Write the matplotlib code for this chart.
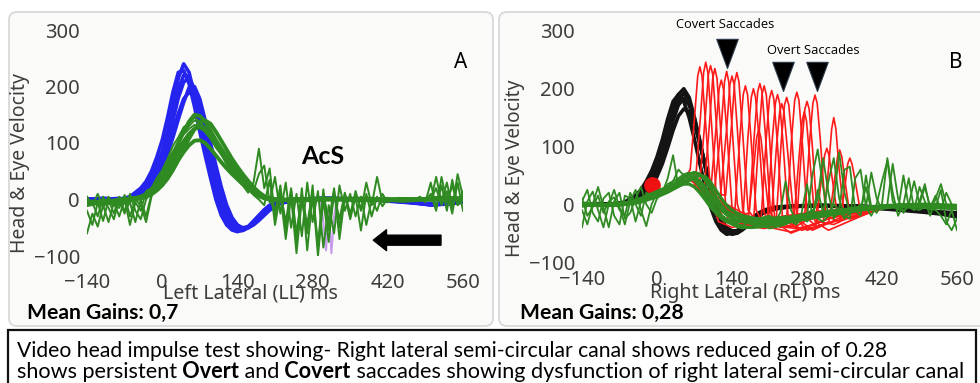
import matplotlib
matplotlib.use("Agg")
import matplotlib.pyplot as plt
from matplotlib.patches import FancyBboxPatch
import numpy as np

plt.rcParams['font.family'] = ['Noto Sans', 'DejaVu Sans']

# ---------------- data ----------------
x_ticks = [-140, 0, 140, 280, 420, 560]
y_ticks = [-100, 0, 100, 200, 300]

# common grid for smooth (head / eye) traces, ms
t_smooth = [-140, -110, -80, -60, -40, -30, -20, -10, 0, 10, 20, 30, 40, 50, 60, 70, 80, 90, 100,
            110, 120, 130, 140, 150, 160, 170, 180, 190, 200, 220, 250, 300, 380, 450, 500, 530, 560]
# grid for noisy eye traces (every 10 ms)
t_noisy = list(range(-140, 561, 10))

# Panel A - head velocity (blue)
headA = [
    [0, 2, 0, 3, 15, 25, 40, 60, 85, 120, 165, 215, 240, 225, 185, 140, 100, 55, 15, -15, -35, -48, -55, -55, -50, -42, -32, -22, -14, -4, 0, 2, 0, -3, -8, -6, -4],
    [0, 0, 2, 0, 10, 18, 30, 48, 70, 100, 140, 180, 208, 215, 195, 160, 120, 78, 35, -2, -28, -42, -50, -52, -49, -42, -33, -24, -15, -5, 0, 1, 0, -4, -9, -7, -3],
    [-2, 2, 0, 2, 8, 15, 25, 40, 60, 88, 120, 152, 178, 190, 182, 155, 120, 85, 48, 12, -18, -36, -46, -50, -48, -43, -35, -26, -17, -6, -1, 2, 1, -3, -10, -8, -4],
    [0, -2, 0, 5, 20, 32, 50, 75, 105, 145, 190, 225, 228, 205, 165, 120, 78, 38, 0, -28, -45, -54, -57, -54, -48, -38, -28, -18, -10, -3, 1, 2, 0, -5, -9, -5, -2],
    [1, 0, -1, 3, 12, 22, 36, 55, 80, 112, 155, 195, 220, 218, 190, 150, 108, 66, 25, -8, -32, -46, -53, -54, -50, -43, -34, -24, -15, -5, 0, 1, 0, -4, -8, -6, -3],
    [0, 1, 0, 1, 6, 12, 22, 36, 55, 80, 110, 142, 172, 198, 200, 178, 140, 100, 60, 22, -10, -32, -45, -51, -50, -45, -37, -28, -19, -7, -1, 2, 1, -3, -9, -8, -5],
]
# Panel A - eye velocity (green, smooth)
eyeA = [
    [-5, -8, -3, 0, 5, 10, 18, 28, 42, 58, 78, 100, 120, 138, 150, 148, 138, 122, 105, 90, 76, 62, 50, 38, 27, 17, 9, 4, 1, 0, -2, 0, 2, -2, 0, 3, 2],
    [-3, -5, 0, 2, 4, 8, 14, 22, 34, 48, 65, 84, 102, 116, 125, 128, 122, 110, 96, 82, 68, 55, 44, 34, 24, 15, 8, 3, 0, -2, 0, 2, 0, -2, 2, 4, 0],
    [-8, -2, -5, 0, 3, 6, 12, 18, 28, 40, 54, 70, 84, 96, 104, 105, 100, 90, 78, 66, 55, 45, 36, 27, 19, 12, 6, 2, 0, -1, 1, 0, -1, 1, 0, 3, 1],
    [-10, -4, -8, -2, 2, 5, 9, 16, 25, 37, 52, 70, 90, 108, 124, 136, 140, 134, 120, 104, 88, 72, 58, 45, 33, 22, 13, 6, 2, 0, -1, 1, 0, 0, 1, 2, 0],
]
# Panel A - eye velocity (green, noisy), on t_noisy
eyeA_noisy = [
    [-60, -25, -48, -10, -40, -5, -30, 0, -45, -5,
     -20, 15, 20, 38, 52, 72, 95, 110, 128, 135,
     145, 138, 125, 110, 92, 80, 62, 50, 35, 25,
     12, 30, 90, 20, 55, -30, 25, -55, 15, -75,
     20, -90, 5, -80, 18, -55, 10, -35, 12, -25,
     8, -15, 5, -8, 2, 0, 3, 0, -2, 0,
     2, 0, 5, -5, 30, -15, 25, -20, 35, -10,
     15],
    [-20, -45, -5, -38, 0, -25, 5, -20, -5, -40,
     0, -30, 10, 30, 45, 62, 80, 100, 118, 130,
     140, 135, 128, 112, 98, 84, 70, 55, 42, 30,
     18, 8, 0, -10, 35, -45, 10, -70, 5, -95,
     0, -60, 25, -85, 10, -40, 20, -70, 5, -30,
     15, -20, 30, -10, 40, -5, 0, 2, -2, 0,
     0, -3, 0, 2, -3, 40, -5, 30, -15, 45,
     5],
    [-10, -5, -30, 5, -15, -35, 0, -25, 10, -20,
     -35, 0, 15, 30, 48, 68, 85, 102, 115, 125,
     132, 130, 120, 108, 95, 82, 68, 56, 44, 34,
     24, 15, 45, 60, -5, 40, -25, 30, -50, 10,
     -65, 30, -40, 15, -85, -10, -60, 25, -20, 10,
     -30, 5, -45, 0, -20, 10, -5, 0, 3, 0,
     -2, 0, 3, -2, 0, 20, -10, 15, -25, 30,
     -20],
    [5, -10, 10, -15, 5, -10, -15, 8, -30, 0,
     -10, -40, 5, 25, 40, 58, 75, 92, 106, 118,
     126, 128, 122, 112, 100, 88, 75, 62, 50, 40,
     30, 20, 12, 5, 0, -20, 15, -40, 20, -60,
     10, -45, 15, -100, 0, -75, 15, -50, 10, -35,
     5, -55, 10, -30, 5, -12, 2, 0, -2, 0,
     0, 2, 0, -2, 10, -20, 40, -5, 25, -10,
     0],
]
purple_t = [295, 300, 305, 310, 315, 320, 325]
purple_v = [0, -40, -90, -20, -95, -30, 0]
arrow_y = -72
arrow_tip_t, arrow_tail_t = 393, 519

# Panel B - head velocity (black)
headB = [
    [0, 0, 0, 3, 12, 20, 32, 48, 68, 95, 128, 162, 190, 200, 185, 150, 110, 65, 22, -12, -35, -48, -52, -50, -44, -36, -28, -20, -14, -8, -4, -2, -3, -8, -12, -15, -18],
    [0, -2, 0, 2, 8, 15, 25, 40, 58, 82, 112, 145, 172, 183, 172, 142, 105, 65, 25, -8, -30, -44, -50, -48, -42, -35, -27, -19, -13, -7, -3, -2, -4, -9, -13, -16, -20],
    [-2, 0, -1, 0, 5, 10, 18, 30, 48, 70, 98, 128, 153, 165, 160, 138, 105, 68, 30, -3, -26, -40, -46, -46, -42, -35, -27, -20, -14, -7, -4, -3, -5, -10, -14, -17, -22],
    [0, 1, 0, 4, 15, 25, 40, 58, 82, 112, 148, 178, 190, 178, 150, 112, 70, 30, -5, -30, -45, -52, -50, -45, -38, -30, -22, -15, -10, -5, -3, -2, -4, -8, -11, -13, -15],
    [0, 0, 1, 2, 10, 18, 29, 44, 63, 88, 120, 153, 180, 192, 180, 148, 108, 66, 24, -10, -33, -46, -51, -49, -43, -36, -28, -20, -14, -8, -4, -2, -3, -8, -12, -15, -19],
]
# Panel B - eye velocity (green, smooth)
eyeB = [
    [0, -2, 0, 2, 6, 10, 14, 18, 22, 26, 30, 34, 40, 46, 52, 55, 52, 42, 28, 12, -2, -12, -18, -22, -25, -27, -28, -28, -28, -27, -25, -18, -5, -2, -3, -4, -5],
    [-3, 0, -2, 0, 3, 6, 9, 12, 15, 19, 24, 29, 34, 40, 44, 45, 40, 30, 16, 2, -10, -18, -24, -28, -30, -32, -33, -33, -32, -30, -28, -20, -8, -3, -2, -3, -4],
    [0, -2, 1, 2, 5, 8, 11, 14, 17, 20, 24, 28, 32, 35, 35, 30, 20, 8, -5, -15, -24, -30, -34, -36, -38, -40, -40, -39, -38, -35, -30, -22, -10, -4, -5, -6, -8],
    [2, 0, -1, 0, 2, 4, 7, 10, 13, 17, 21, 26, 31, 36, 41, 46, 50, 48, 38, 24, 10, -2, -10, -16, -20, -22, -24, -25, -25, -24, -22, -15, -6, -1, 0, -1, -2],
]
# Panel B - eye velocity (green, noisy), on t_noisy
eyeB_noisy = [
    [-40, 5, 22, -10, -40, 0, 25, -5, -35, 5,
     25, -10, -38, 0, 20, 25, 30, 40, 60, 50,
     45, 50, 35, 20, 5, -10, -20, -25, -30, -32,
     -30, -33, -35, -30, -30, -28, -30, -15, 40, -10,
     -30, -25, -20, 50, 95, 30, -20, 5, 90, 20,
     -15, -10, 0, -5, 55, 10, -10, 0, 70, 10,
     -15, 0, 40, 0, 30, -5, 15, -10, 20, 0,
     -10],
    [5, 25, -15, -30, 10, 20, -20, -35, 15, 10,
     -30, 5, 15, 10, 15, 20, 45, 85, 30, 45,
     50, 40, 28, 15, 2, -12, -22, -28, -30, -35,
     -38, -30, -36, -40, -35, -30, -38, -35, -30, -25,
     -30, -15, 35, -20, 10, 80, 20, -25, -10, 60,
     65, -10, -20, 50, -5, -15, 0, 80, 20, -20,
     0, 45, -10, 5, 35, -10, -5, 25, -30, -45,
     -25],
    [-10, -35, 0, 30, -5, -40, 5, 20, -25, -15,
     10, 30, 0, -15, 10, 22, 28, 35, 42, 48,
     52, 45, 30, 12, -2, -15, -25, -30, -35, -40,
     -42, -40, -38, -35, -38, -42, -40, -38, -35, -30,
     -28, -25, -30, -20, 25, -15, 40, 80, 10, -20,
     -25, 45, 60, -5, -20, 0, 40, 75, 5, -10,
     50, -5, -10, 30, 5, -20, 10, 35, 0, -10,
     -5],
    [10, -20, -5, 15, -15, 5, 12, -10, -20, 20,
     0, -20, 20, 15, 10, 22, 35, 40, 45, 52,
     55, 50, 40, 25, 10, -5, -18, -25, -28, -30,
     -30, -28, -25, -25, -22, -20, -25, -28, -20, -30,
     -35, -25, -15, -10, -25, -30, -20, 0, -10, -25,
     -15, -5, -10, 30, -10, -5, 0, -5, -5, -8,
     -10, -5, -8, -10, -5, -8, -10, -20, -35, -10,
     -45],
]
# Panel B - saccade traces (red), each with its own time samples
red_t = [
    [60, 71, 81, 87, 91, 95, 101, 111, 125, 150, 200, 280, 400],
    [65, 88, 98, 104, 108, 112, 118, 128, 145, 170, 220, 300, 400],
    [70, 107, 120, 126, 130, 134, 140, 150, 160, 170, 176, 180, 184, 190, 200, 215, 260, 400],
    [70, 128, 139, 145, 149, 153, 159, 170, 190, 213, 223, 229, 233, 237, 243, 255, 280, 400],
    [75, 150, 172, 182, 188, 192, 196, 202, 212, 230, 260, 275, 285, 291, 295, 299, 305, 315, 340, 400],
    [80, 160, 194, 204, 210, 214, 218, 224, 234, 260, 297, 307, 313, 317, 321, 327, 337, 360, 400],
    [85, 180, 241, 251, 257, 261, 265, 271, 281, 300, 321, 331, 337, 341, 345, 351, 361, 380, 420],
    [80, 150, 222, 232, 238, 242, 246, 252, 262, 290, 350, 420],
    [65, 100, 110, 116, 120, 124, 130, 140, 160, 200, 270, 400],
    [70, 145, 155, 161, 165, 169, 175, 185, 200, 250, 330, 420],
    [80, 170, 180, 186, 190, 194, 200, 210, 230, 255, 265, 271, 275, 279, 285, 295, 320, 420],
    [55, 62, 70, 76, 80, 84, 90, 100, 115, 140, 200, 300, 400],
    [60, 80, 90, 96, 100, 104, 110, 120, 135, 160, 220, 320, 400],
    [70, 118, 130, 136, 140, 144, 150, 160, 175, 200, 260, 400],
    [75, 160, 205, 215, 221, 225, 229, 235, 245, 270, 310, 320, 326, 330, 334, 340, 350, 380, 420],
    [80, 200, 260, 270, 276, 280, 284, 290, 300, 330, 342, 352, 356, 360, 364, 370, 380, 420],
    [75, 165, 180, 190, 196, 200, 204, 210, 220, 250, 320, 420],
]
red_v = [
    [35, 30, 150, 228, 246, 228, 150, 10, -30, -35, -25, -15, -8],
    [40, 25, 140, 218, 235, 218, 140, 0, -35, -38, -25, -12, -6],
    [35, 20, 135, 212, 230, 212, 135, 0, -30, 120, 185, 200, 185, 120, -15, -40, -25, -8],
    [30, 15, 135, 212, 228, 212, 135, -10, -35, -30, 100, 160, 174, 160, 100, -20, -45, -10],
    [30, -20, -15, 125, 195, 209, 195, 125, -15, -40, -38, -30, 110, 175, 189, 175, 110, -20, -30, -10],
    [25, -25, -30, 115, 183, 197, 183, 115, -20, -42, -35, 45, 85, 97, 85, 45, -20, -25, -10],
    [20, -30, -40, 110, 180, 194, 180, 110, -25, -40, -30, 40, 82, 94, 82, 40, -25, -20, -8],
    [30, -30, -35, 110, 172, 185, 172, 110, -25, -45, -20, -5],
    [40, 20, 130, 200, 215, 200, 130, -5, -35, -30, -20, -6],
    [30, -15, 120, 190, 205, 190, 120, -10, -38, -48, -22, -6],
    [25, -30, 60, 115, 130, 115, 60, -25, -40, -35, 80, 145, 160, 145, 80, -30, -45, -5],
    [50, 60, 150, 222, 238, 222, 150, 20, -30, -40, -30, -15, -5],
    [45, 40, 150, 225, 240, 225, 150, 10, -30, -38, -28, -14, -6],
    [30, 10, 130, 207, 222, 207, 130, -10, -38, -42, -30, -8],
    [28, -25, -38, 110, 175, 190, 175, 110, -25, -45, -35, 60, 130, 150, 130, 60, -25, -20, -6],
    [25, -35, -42, 100, 165, 178, 165, 100, -30, -35, -30, 40, 70, 80, 70, 40, -15, -6],
    [28, -28, -35, 115, 190, 205, 190, 115, -30, -50, -25, -5],
]
sacc_mark_t = [131, 235, 299]
sacc_mark_tip = [236, 196, 196]
dot_t = [-9]
dot_v = [33]

# ---------------- figure ----------------
W, H = 980, 383
fig = plt.figure(figsize=(W / 100, H / 100), dpi=100)
fig.patch.set_facecolor('white')
renderer = fig.canvas.get_renderer()

def fxy(px, py):
    return px / W, 1 - py / H

# panel backgrounds (pixel geometry in inches)
for x0, x1 in [(9, 493), (499, 992)]:
    box = FancyBboxPatch((x0 / 100, (H - 326) / 100), (x1 - x0) / 100, (326 - 12) / 100,
                         boxstyle="round,pad=0,rounding_size=0.08",
                         transform=fig.dpi_scale_trans, facecolor='#fafaf8',
                         edgecolor='#d9d9d9', lw=1.3, zorder=0)
    fig.add_artist(box)

# caption box
cap = FancyBboxPatch((8 / 100, (H - 390) / 100), (976 - 8) / 100, (390 - 330) / 100,
                     boxstyle="square,pad=0", transform=fig.dpi_scale_trans,
                     facecolor='white', edgecolor='#111111', lw=1.6, zorder=0)
fig.add_artist(cap)

TICK_COLOR = '#3d3d3d'

def make_axes(left, right, top, bottom, xpad):
    ax = fig.add_axes([left / W, 1 - bottom / H, (right - left) / W, (bottom - top) / H])
    ax.set_xlim(-140, 560)
    ax.set_ylim(-100, 300)
    ax.set_xticks(x_ticks)
    ax.set_yticks(y_ticks)
    ax.patch.set_alpha(0)
    for s in ax.spines.values():
        s.set_visible(False)
    ax.tick_params(length=0, labelsize=14.5, labelcolor=TICK_COLOR)
    ax.tick_params(axis='x', pad=xpad)
    ax.tick_params(axis='y', pad=5)
    return ax

axA = make_axes(87, 463, 30, 256, 12)
axB = make_axes(582, 957, 31, 262, 6)

BLUE = '#2424ee'
GREEN = '#2f8a22'
RED = '#ff1a1a'
BLACK = '#141414'

for tr in headA:
    axA.plot(t_smooth, tr, color=BLUE, lw=2.6, zorder=2)
axA.plot(purple_t, purple_v, color='#c79cec', lw=1.5, zorder=2)
for tr in eyeA:
    axA.plot(t_smooth, tr, color=GREEN, lw=2.8, zorder=3)
for tr in eyeA_noisy:
    axA.plot(t_noisy, tr, color=GREEN, lw=1.4, zorder=3)
axA.annotate('', xy=(arrow_tip_t, arrow_y), xytext=(arrow_tail_t, arrow_y),
             arrowprops=dict(arrowstyle='simple,head_length=0.95,head_width=1.5,tail_width=0.72',
                             mutation_scale=10, color='black', shrinkA=0, shrinkB=0), zorder=4)

for tr in headB:
    axB.plot(t_smooth, tr, color=BLACK, lw=2.6, zorder=2)
for tt, vv in zip(red_t, red_v):
    axB.plot(tt, vv, color=RED, lw=1.2, zorder=3)
axB.plot(dot_t, dot_v, 'o', color='#ee1111', markersize=11, zorder=4)
for tr in eyeB:
    axB.plot(t_smooth, tr, color=GREEN, lw=2.4, zorder=5)
for tr in eyeB_noisy:
    axB.plot(t_noisy, tr, color=GREEN, lw=1.3, zorder=5)
tri = [(-0.37, 1.0), (0.37, 1.0), (0.0, 0.0), (-0.37, 1.0)]
axB.plot(sacc_mark_t, sacc_mark_tip, linestyle='none', marker=tri, markersize=42,
         color='black', markeredgecolor='#2a3a4a', markeredgewidth=0.8, clip_on=False, zorder=6)

# ---------------- text ----------------
def fit_text(px, py, s, target, size0=12, **kw):
    x, y = fxy(px, py)
    t = fig.text(x, y, s, fontsize=size0, **kw)
    bb = t.get_window_extent(renderer)
    extent = bb.height if kw.get('rotation', 0) == 90 else bb.width
    t.set_fontsize(size0 * target / extent)
    return t

fit_text(20, 163, 'Head & Eye Velocity', 180, rotation=90, ha='center', va='center', color=TICK_COLOR)
fit_text(515, 168, 'Head & Eye Velocity', 178, rotation=90, ha='center', va='center', color=TICK_COLOR)
fit_text(250, 293, 'Left Lateral (LL) ms', 175, ha='center', va='center', color=TICK_COLOR)
fit_text(745, 293, 'Right Lateral (RL) ms', 191, ha='center', va='center', color=TICK_COLOR)

x, y = fxy(461, 62)
fig.text(x, y, 'A', fontsize=15, ha='center', va='center', color='black')
x, y = fxy(956, 62)
fig.text(x, y, 'B', fontsize=15, ha='center', va='center', color='black')
fit_text(323, 157, 'AcS', 43, family=['Lato', 'DejaVu Sans'], fontweight='bold', ha='center', va='center', color='black')
fit_text(725, 24, 'Covert Saccades', 97, family=['Open Sans', 'DejaVu Sans'], ha='center', va='center', color='black')
fit_text(813, 51, 'Overt Saccades', 91, family=['Open Sans', 'DejaVu Sans'], ha='center', va='center', color='black')

mg = fit_text(27, 313, 'Mean Gains: 0,7', 151, family=['Lato', 'DejaVu Sans'], fontweight='bold', ha='left', va='center', color='black')
x, y = fxy(520, 313)
fig.text(x, y, 'Mean Gains: 0,28', fontsize=mg.get_fontsize(), family=['Lato', 'DejaVu Sans'],
         fontweight='bold', ha='left', va='center', color='black')

CAP_FAMILY = ['Lato', 'DejaVu Sans']
line2 = [('shows persistent', False), (' Overt', True), (' and', False), (' Covert', True),
         (' saccades showing dysfunction of right lateral semi-circular canal', False)]
size0 = 14
widths = []
for s, b in line2:
    t = fig.text(0, 0, s, fontsize=size0, family=CAP_FAMILY, fontweight='bold' if b else 'normal')
    widths.append(t.get_window_extent(renderer).width)
    t.remove()
cap_size = size0 * 950 / sum(widths)
px = 17
for s, b in line2:
    x, y = fxy(px, 372)
    t = fig.text(x, y, s, fontsize=cap_size, family=CAP_FAMILY,
                 fontweight='bold' if b else 'normal', ha='left', va='center', color='black')
    px += t.get_window_extent(renderer).width
fit_text(17, 351, 'Video head impulse test showing- Right lateral semi-circular canal shows reduced gain of 0.28',
         870, size0=cap_size, family=CAP_FAMILY, ha='left', va='center', color='black')

fig.savefig('out.png', dpi=100, facecolor='white')
